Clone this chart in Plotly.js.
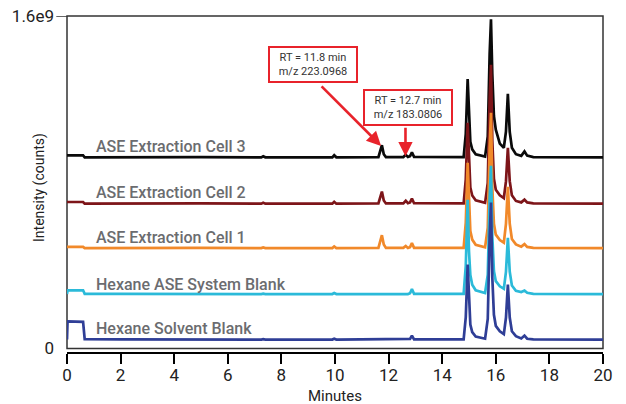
<!DOCTYPE html>
<html>
<head>
<meta charset="utf-8">
<script src="https://cdn.plot.ly/plotly-3.0.1.min.js"></script>
<style>html,body{margin:0;padding:0;background:#fff;}#chart{width:626px;height:404px;}</style>
</head>
<body>
<div id="chart"></div>
<script>
// Retention time (minutes), shared by all traces
var time = [0, 0.02, 0.6, 0.66, 2.0, 3.5, 5.0, 7.25, 7.32, 7.4, 9.9, 9.97, 10.05, 11.62, 11.7, 11.75, 11.82, 11.9, 12.55, 12.64, 12.72, 12.8, 12.87, 12.95, 14.8, 14.88, 14.95, 15.0, 15.05, 15.12, 15.25, 15.6, 15.7, 15.77, 15.82, 15.87, 15.93, 16.0, 16.15, 16.3, 16.38, 16.45, 16.52, 16.6, 16.75, 16.95, 17.07, 17.17, 17.4, 20];

// Intensities in units of 1e9 counts (traces are offset/stacked as in the figure)
var cell3 = [0.929, 0.929, 0.929, 0.920, 0.921, 0.920, 0.921, 0.920, 0.925, 0.920, 0.920, 0.930, 0.920, 0.921, 0.950, 0.978, 0.935, 0.921, 0.921, 0.932, 0.922, 0.926, 0.944, 0.922, 0.921, 1.033, 1.297, 1.090, 0.995, 0.958, 0.935, 0.924, 1.020, 1.418, 1.584, 1.318, 1.119, 1.053, 0.986, 0.966, 1.045, 1.225, 1.042, 0.966, 0.935, 0.927, 0.948, 0.928, 0.921, 0.920];
var cell2 = [0.705, 0.705, 0.705, 0.697, 0.698, 0.697, 0.698, 0.697, 0.701, 0.697, 0.697, 0.706, 0.697, 0.698, 0.730, 0.755, 0.712, 0.698, 0.698, 0.711, 0.699, 0.703, 0.721, 0.699, 0.698, 0.814, 1.086, 0.872, 0.775, 0.736, 0.713, 0.701, 0.797, 1.198, 1.365, 0.998, 0.817, 0.764, 0.737, 0.724, 0.805, 0.966, 0.805, 0.737, 0.710, 0.703, 0.716, 0.703, 0.698, 0.697];
var cell1 = [0.489, 0.489, 0.489, 0.483, 0.484, 0.483, 0.484, 0.483, 0.486, 0.483, 0.483, 0.491, 0.483, 0.484, 0.515, 0.545, 0.500, 0.484, 0.484, 0.493, 0.484, 0.488, 0.507, 0.484, 0.484, 0.606, 0.894, 0.668, 0.565, 0.524, 0.499, 0.487, 0.581, 0.971, 1.134, 0.776, 0.600, 0.548, 0.522, 0.509, 0.601, 0.778, 0.601, 0.527, 0.501, 0.490, 0.502, 0.489, 0.484, 0.483];
var systemBlank = [0.262, 0.280, 0.280, 0.263, 0.263, 0.262, 0.263, 0.262, 0.264, 0.262, 0.262, 0.267, 0.262, 0.263, 0.262, 0.263, 0.262, 0.263, 0.262, 0.263, 0.262, 0.266, 0.286, 0.263, 0.263, 0.398, 0.716, 0.466, 0.353, 0.307, 0.280, 0.267, 0.355, 0.725, 0.879, 0.540, 0.373, 0.324, 0.299, 0.287, 0.370, 0.533, 0.370, 0.303, 0.278, 0.272, 0.279, 0.268, 0.263, 0.262];
var solventBlank = [0.043, 0.130, 0.128, 0.045, 0.044, 0.043, 0.044, 0.043, 0.045, 0.043, 0.043, 0.047, 0.043, 0.044, 0.043, 0.044, 0.043, 0.044, 0.043, 0.044, 0.043, 0.046, 0.062, 0.044, 0.044, 0.151, 0.404, 0.205, 0.115, 0.079, 0.057, 0.047, 0.142, 0.537, 0.702, 0.340, 0.162, 0.109, 0.083, 0.069, 0.149, 0.308, 0.149, 0.083, 0.059, 0.048, 0.062, 0.047, 0.044, 0.043];

var seriesNames = ["ASE Extraction Cell 3", "ASE Extraction Cell 2", "ASE Extraction Cell 1", "Hexane ASE System Blank", "Hexane Solvent Blank"];
var seriesData = [cell3, cell2, cell1, systemBlank, solventBlank];
var seriesColors = ["#0a0a0a", "#7d1519", "#f1892a", "#2bbad9", "#2f3e96"];
var labelLevels = [0.972, 0.752, 0.532, 0.307, 0.095]; // 1e9 counts

var xTicks = [0, 2, 4, 6, 8, 10, 12, 14, 16, 18, 20];
var yTickVals = [0, 1.6e9];
var yTickText = ["0", "1.6e9"];
var xTitle = "Minutes";
var yTitle = "Intensity (counts)";

var callouts = [
  {text: "RT = 11.8 min<br>m/z 223.0968", boxX: 9.18, boxY: 1.365, tipX: 11.72, tipY: 0.975, ax: -61, ay: -61},
  {text: "RT = 12.7 min<br>m/z 183.0806", boxX: 12.72, boxY: 1.158, tipX: 12.63, tipY: 0.925, ax: 0, ay: -30}
];

var FONT = "Roboto, 'Liberation Sans', sans-serif";
var SCALE = 1e9;

var traces = seriesData.map(function (vals, i) {
  return {
    x: time,
    y: vals.map(function (v) { return v * SCALE; }),
    type: "scatter",
    mode: "lines",
    name: seriesNames[i],
    line: {color: seriesColors[i], width: 2.7, shape: "linear"},
    hoverinfo: "skip"
  };
});

var annotations = seriesNames.map(function (name, i) {
  return {
    x: 1.0, y: labelLevels[i] * SCALE, xref: "x", yref: "y",
    text: name, showarrow: false, xanchor: "left", yanchor: "middle",
    font: {family: FONT, size: 16, color: "#6b6c6f", weight: 500}
  };
});

callouts.forEach(function (c) {
  annotations.push({
    x: c.boxX, y: c.boxY * SCALE, xref: "x", yref: "y",
    text: c.text, showarrow: false, xanchor: "center", yanchor: "middle",
    width: 86, height: 33, align: "center",
    bordercolor: "#e8232b", borderwidth: 2, borderpad: 0, bgcolor: "#ffffff",
    font: {family: FONT, size: 11, color: "#333333"}
  });
  annotations.push({
    x: c.tipX, y: c.tipY * SCALE, xref: "x", yref: "y",
    text: "", showarrow: true, ax: c.ax, ay: c.ay,
    arrowcolor: "#e8232b", arrowwidth: 2.6, arrowhead: 2, arrowsize: 1.1, standoff: 0
  });
});

// axis titles placed as annotations (as in the original, close to the frame)
annotations.push({
  xref: "paper", yref: "paper", x: -0.0504, y: 0.4926, xanchor: "center", yanchor: "middle",
  text: yTitle, textangle: -90, showarrow: false,
  font: {family: FONT, size: 14, color: "#222222"}
});
annotations.push({
  xref: "paper", yref: "paper", x: 0.5, y: -0.127, xanchor: "center", yanchor: "middle",
  text: xTitle, showarrow: false,
  font: {family: FONT, size: 15, color: "#222222"}
});

var layout = {
  width: 626, height: 404,
  margin: {l: 67, r: 23, t: 16, b: 51},
  paper_bgcolor: "#ffffff", plot_bgcolor: "#ffffff",
  showlegend: false,
  font: {family: FONT, size: 16, color: "#222222"},
  xaxis: {
    range: [0, 20], tickvals: xTicks, ticktext: xTicks.map(String),
    anchor: "free", position: 0,
    showgrid: false, zeroline: false,
    showline: true, linecolor: "#000000", linewidth: 2,
    ticks: "outside", ticklen: 10, tickwidth: 2, tickcolor: "#000000",
    ticklabelstandoff: -3,
    tickfont: {family: FONT, size: 17, color: "#222222"}
  },
  yaxis: {
    range: [0, 1.6e9], domain: [0.0134, 1],
    tickvals: yTickVals, ticktext: yTickText,
    showgrid: false, zeroline: false, showline: false,
    ticks: "", ticklabelstandoff: 12,
    tickfont: {family: FONT, size: 17, color: "#222222"}
  },
  shapes: [
    {type: "rect", xref: "x domain", yref: "y domain", x0: 0, x1: 1, y0: 0, y1: 1,
     line: {color: "#333333", width: 1.5}, layer: "below"},
    {type: "line", xref: "x domain", yref: "y", x0: -0.02, x1: 0, y0: 1.6e9, y1: 1.6e9,
     line: {color: "#333333", width: 1.5}}
  ],
  annotations: annotations
};

Plotly.newPlot("chart", traces, layout, {staticPlot: true, displayModeBar: false});
</script>
</body>
</html>
